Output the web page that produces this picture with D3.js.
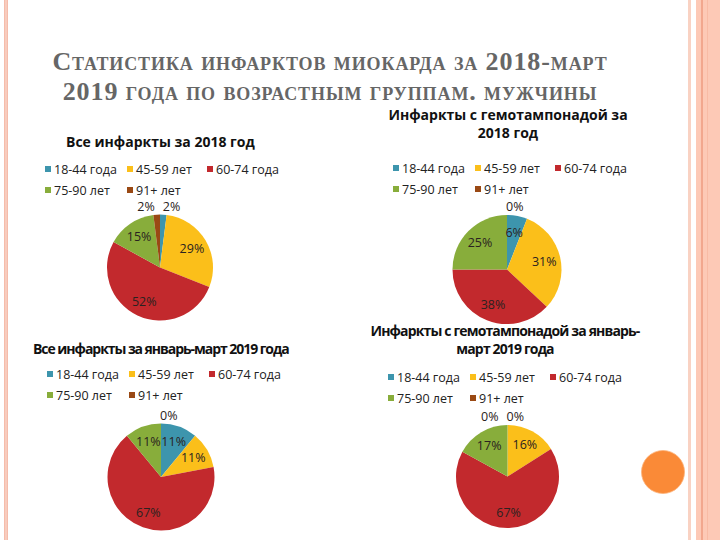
<!DOCTYPE html>
<html>
<head>
<meta charset="utf-8">
<script src="https://cdn.jsdelivr.net/npm/d3@7"></script>
<style>
  body { margin: 0; background: #fff; }
  svg { display: block; }
  .title-main { font-family: "Liberation Serif", serif; font-variant: small-caps; font-weight: bold; font-size: 26px; letter-spacing: 0.9px; fill: #666; }
  .panel-title { font-family: "Open Sans", sans-serif; font-weight: bold; font-size: 14px; fill: #111; }
  .legend-text { font-family: "Open Sans", sans-serif; font-size: 12.5px; fill: #222; }
  .pct { font-family: "Open Sans", sans-serif; font-size: 12.5px; fill: #2a2220; }
</style>
</head>
<body>
<svg id="chart" width="720" height="540"></svg>
<script>
// --- DATA ---
const ageGroups = ["18-44 года", "45-59 лет", "60-74 года", "75-90 лет", "91+ лет"];
const palette = ["#3d95ad", "#fbbf1a", "#c2292d", "#88ad3b", "#9a4914"];

const allInfarcts2018 = [2, 29, 52, 15, 2];
const tamponade2018 = [6, 31, 38, 25, 0];
const allInfarctsJanMar2019 = [11, 11, 67, 11, 0];
const tamponadeJanMar2019 = [0, 16, 67, 17, 0];

const titleLines = ["Статистика инфарктов миокарда за 2018-март", "2019 года по возрастным группам. мужчины"];
const panelTitles = [
    ["Все инфаркты за 2018 год"],
    ["Инфаркты с гемотампонадой за", "2018 год"],
    ["Все инфаркты за январь-март 2019 года"],
    ["Инфаркты с гемотампонадой за январь-", "март 2019 года"]
];

// --- LAYOUT ---
const svg = d3.select("#chart");

// slide decoration
svg.append("rect").attr("x", 4).attr("y", 0).attr("width", 4).attr("height", 540).attr("fill", "#f5bcab");
svg.append("rect").attr("x", 5.5).attr("y", 0).attr("width", 1).attr("height", 540).attr("fill", "#fbdcd2");
svg.append("rect").attr("x", 688).attr("y", 0).attr("width", 3).attr("height", 540).attr("fill", "#f9d2c3");
svg.append("rect").attr("x", 696).attr("y", 0).attr("width", 24).attr("height", 540).attr("fill", "#fdc9b6");
svg.append("rect").attr("x", 701).attr("y", 0).attr("width", 2).attr("height", 540).attr("fill", "#f2a78e");
svg.append("rect").attr("x", 707).attr("y", 0).attr("width", 1).attr("height", 540).attr("fill", "#f8bba5");
svg.append("circle").attr("cx", 663).attr("cy", 472).attr("r", 21.5)
    .attr("fill", "#fa8a37").attr("stroke", "#fdb27a").attr("stroke-width", 0.8);

// main title
svg.selectAll(".title-main")
    .data(titleLines)
    .join("text")
    .attr("class", "title-main")
    .attr("text-anchor", "middle")
    .attr("x", 330)
    .attr("y", (d, i) => 70 + i * 30)
    .text(d => d);

const panels = [
    { values: allInfarcts2018, title: panelTitles[0], titleX: 66, anchor: "start", titleY: 147, spacing: 0,
      legendX: 45, legendY: 169, cx: 160, cy: 267.5, r: 53 },
    { values: tamponade2018, title: panelTitles[1], titleX: 508, anchor: "middle", titleY: 120, spacing: 0,
      legendX: 393, legendY: 168, cx: 507, cy: 269.5, r: 54.5 },
    { values: allInfarctsJanMar2019, title: panelTitles[2], titleX: 33, anchor: "start", titleY: 354, spacing: -1.05,
      legendX: 47, legendY: 374, cx: 161, cy: 477, r: 53.5 },
    { values: tamponadeJanMar2019, title: panelTitles[3], titleX: 505, anchor: "middle", titleY: 336, spacing: -0.85,
      legendX: 388, legendY: 377, cx: 507.5, cy: 476.5, r: 51.5 }
];

const legendCols = [0, 82, 162];
const pie = d3.pie().sort(null).value(d => d);

panels.forEach(p => {
    const g = svg.append("g");

    // panel title
    g.selectAll(".panel-title")
        .data(p.title)
        .join("text")
        .attr("class", "panel-title")
        .attr("text-anchor", p.anchor)
        .attr("x", p.titleX)
        .attr("y", (d, i) => p.titleY + i * 18)
        .style("letter-spacing", p.spacing + "px")
        .text(d => d);

    // legend
    const items = g.selectAll(".legend-item")
        .data(ageGroups)
        .join("g")
        .attr("class", "legend-item")
        .attr("transform", (d, i) => `translate(${p.legendX + legendCols[i % 3]},${p.legendY + Math.floor(i / 3) * 21})`);
    items.append("rect")
        .attr("x", 0).attr("y", -3).attr("width", 6).attr("height", 6)
        .attr("fill", (d, i) => palette[i]);
    items.append("text")
        .attr("class", "legend-text")
        .attr("x", 9)
        .attr("y", 4.5)
        .text(d => d);

    // pie
    const arcs = pie(p.values);
    const arc = d3.arc().innerRadius(0).outerRadius(p.r);
    const pieG = g.append("g").attr("transform", `translate(${p.cx},${p.cy})`);
    pieG.selectAll("path")
        .data(arcs)
        .join("path")
        .attr("d", arc)
        .attr("fill", (d, i) => palette[i]);

    // labels: inside for big slices, outside for small ones
    const placed = [];
    arcs.forEach(a => {
        const mid = (a.startAngle + a.endAngle) / 2;
        const label = a.data + "%";
        let x, y, anchor;
        if (a.data >= 5) {
            const lr = p.r * 0.7;
            x = lr * Math.sin(mid);
            y = -lr * Math.cos(mid) + 4.5;
            anchor = "middle";
        } else {
            const lr = p.r + 8;
            x = lr * Math.sin(mid) - 1;
            y = -lr * Math.cos(mid) + 4;
            anchor = "start";
            const w = 18;
            placed.forEach(q => {
                if (Math.abs(q.y - y) < 10 && x < q.x + w && x + w > q.x) {
                    x = q.x - 8;
                    anchor = "end";
                }
            });
            placed.push({ x: anchor === "end" ? x - w : x, y: y });
        }
        pieG.append("text")
            .attr("class", "pct")
            .attr("x", x)
            .attr("y", y)
            .attr("text-anchor", anchor)
            .text(label);
    });
});
</script>
</body>
</html>
